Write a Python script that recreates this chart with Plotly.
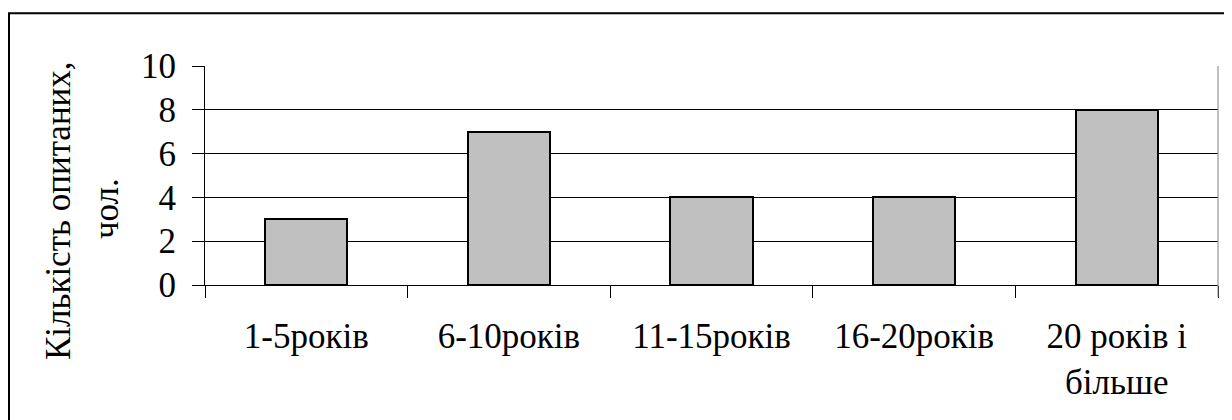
import plotly.graph_objects as go

categories = ["1-5років", "6-10років", "11-15років", "16-20років", "20 років і<br>більше"]
values = [3, 7, 4, 4, 8]
y_title_line1 = "Кількість опитаних,"
y_title_line2 = "чол."

W, H = 1232, 420
OFF = 8  # page body margin offset
L, R, T, B = 205 - OFF, 1218 - OFF, 65.7 - OFF, 285.0 - OFF
pw, ph = R - L, B - T

def px_x(x):
    return (x - OFF - L) / pw

def px_y(y):
    return (B - (y - OFF)) / ph

FONT = "Liberation Serif"
FS = 35

fig = go.Figure(go.Bar(
    x=categories, y=values, width=0.405,
    marker=dict(color="#C0C0C0", line=dict(color="black", width=2)),
))

fig.update_layout(
    width=W, height=H, autosize=False,
    margin=dict(l=L, r=W - R, t=T, b=H - B, pad=0),
    paper_bgcolor="white", plot_bgcolor="white",
    font=dict(family=FONT, size=FS, color="black"),
    showlegend=False,
    bargap=0,
)
fig.update_xaxes(
    type="category", tickson="boundaries", ticks="outside", ticklen=12,
    tickcolor="black", tickwidth=1, showline=True, linecolor="black", linewidth=1,
    showgrid=False, ticklabelstandoff=20,
    tickfont=dict(family=FONT, size=FS, color="black"),
)
fig.update_yaxes(
    range=[0, 10], dtick=2, tick0=0, ticks="outside", ticklen=12,
    tickcolor="black", tickwidth=1, showline=True, linecolor="black", linewidth=1,
    showgrid=True, gridcolor="black", gridwidth=1, zeroline=False,
    ticklabelstandoff=9,
    tickfont=dict(family=FONT, size=FS, color="black"),
)

# right plot edge (gray) and outer chart border
fig.add_shape(type="line", xref="paper", yref="paper", x0=1, x1=1, y0=px_y(297), y1=1,
              line=dict(color="#808080", width=1))
fig.add_shape(type="rect", xref="paper", yref="paper",
              x0=px_x(9), x1=px_x(W + 40), y0=px_y(H + 40), y1=px_y(13),
              line=dict(color="black", width=2), fillcolor="rgba(0,0,0,0)")

fig.add_annotation(text=y_title_line1, xref="paper", yref="paper", x=px_x(58), y=px_y(211),
                   xanchor="center", yanchor="middle", textangle=-90, showarrow=False,
                   font=dict(family=FONT, size=FS, color="black"))
fig.add_annotation(text=y_title_line2, xref="paper", yref="paper", x=px_x(106), y=px_y(209),
                   xanchor="center", yanchor="middle", textangle=-90, showarrow=False,
                   font=dict(family=FONT, size=FS, color="black"))

fig.write_html("out.html")
